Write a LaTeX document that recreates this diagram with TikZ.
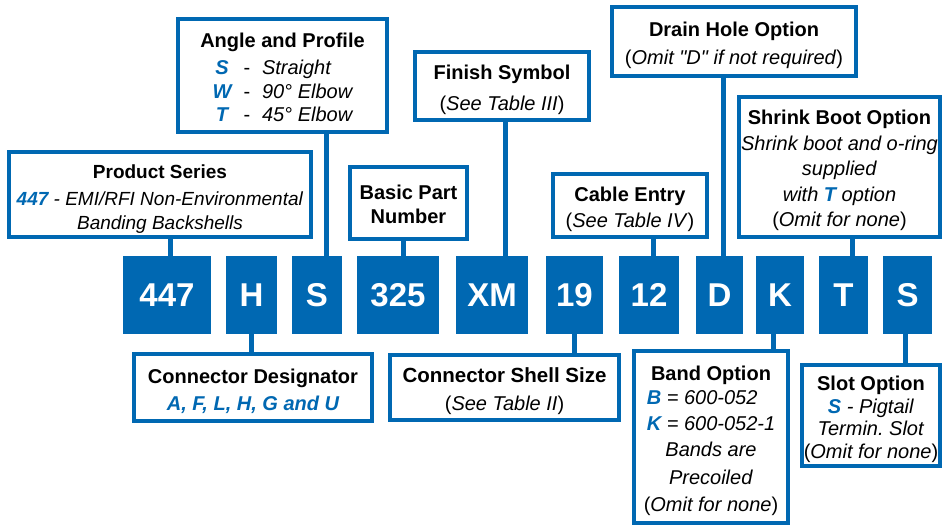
\documentclass[tikz,border=0pt]{standalone}
\usepackage{fontspec}
\setmainfont{Liberation Sans}[Ligatures=TeXOff]
\frenchspacing

\definecolor{partblue}{RGB}{0,104,178}
\newcommand{\opt}[1]{\textcolor{partblue}{\bfseries\itshape #1}}
\newcommand{\see}[1]{(\textit{#1})}
\newcommand{\padtop}{\rule{0pt}{22pt}}
\newcommand{\angleline}[3]{\makebox[20pt]{\opt{#1}}\makebox[30pt]{#2}\makebox[91pt][l]{\itshape #3}}

\begin{document}
\begin{tikzpicture}[x=1pt, y=-1pt,
    code/.style={rectangle, fill=partblue, text=white, inner sep=0pt,
      minimum height=78pt, font=\fontsize{33}{40}\selectfont\bfseries},
    callout/.style={rectangle, draw=partblue, line width=3.5pt, fill=white,
      align=center, inner sep=0pt, font=\fontsize{20}{24.5}\selectfont},
    link/.style={partblue, line width=5pt}
    ]
    \useasboundingbox (0,0) rectangle (943,529);

    % part number boxes
    \node[code, minimum width=88pt] (c447) at (167,295) {447};
    \node[code, minimum width=51pt] (cH) at (251.5,295) {H};
    \node[code, minimum width=50pt] (cS) at (317,295) {S};
    \node[code, minimum width=82pt] (c325) at (398,295) {325};
    \node[code, minimum width=72pt] (cXM) at (492,295) {XM};
    \node[code, minimum width=57pt] (c19) at (574.5,295) {19};
    \node[code, minimum width=60pt] (c12) at (649,295) {12};
    \node[code, minimum width=47pt] (cD) at (719.5,295) {D};
    \node[code, minimum width=48pt] (cK) at (780,295) {K};
    \node[code, minimum width=49pt] (cT) at (843.5,295) {T};
    \node[code, minimum width=49pt] (cS2) at (907.5,295) {S};

    % upper callouts
    \node[callout, minimum width=302pt, minimum height=85pt,
      font=\fontsize{19}{23.5}\selectfont] (series) at (160,194.5)
      {\padtop\textbf{Product Series}\\[4pt]
       \opt{447} \textit{- EMI/RFI Non-Environmental}\\
       \textit{Banding Backshells}};
    \node[callout, minimum width=209pt, minimum height=113pt] (angle) at (282.5,75.5)
      {\rule{0pt}{18pt}\textbf{Angle and Profile}\\[3pt]
       \angleline{S}{-}{Straight}\\[-1pt]
       \angleline{W}{-}{90° Elbow}\\[-1pt]
       \angleline{T}{-}{45° Elbow}};
    \node[callout, minimum width=117pt, minimum height=72pt, font=\fontsize{20}{24}\selectfont\bfseries]
      (partno) at (408.5,203) {\rule{0pt}{17pt}Basic Part\\Number};
    \node[callout, minimum width=174pt, minimum height=68pt] (finish) at (502,86)
      {\padtop\textbf{Finish Symbol}\\[7pt] \see{See Table III}};
    \node[callout, minimum width=244pt, minimum height=69pt] (drain) at (734,41.5)
      {\padtop\textbf{Drain Hole Option}\\[4pt] \see{Omit "D" if not required}};
    \node[callout, minimum width=154pt, minimum height=63pt] (cable) at (630,205.5)
      {\padtop\textbf{Cable Entry}\\[1pt] \see{See Table IV}};
    \node[callout, minimum width=201pt, minimum height=140pt,
      font=\fontsize{20}{25.5}\selectfont] (shrink) at (839.5,167)
      {\padtop\textbf{Shrink Boot Option}\\
       \textit{Shrink boot and o-ring}\\
       \textit{supplied}\\
       \textit{with \opt{T} option}\\
       \see{Omit for none}};

    % lower callouts
    \node[callout, minimum width=238pt, minimum height=67pt] (designator) at (253,387.5)
      {\padtop\textbf{Connector Designator}\\[3pt] \opt{A, F, L, H, G and U}};
    \node[callout, minimum width=229pt, minimum height=65pt] (shell) at (504.5,387.5)
      {\padtop{\fontsize{20.5}{24.5}\selectfont\bfseries Connector Shell Size}\\[4pt] \see{See Table II}};
    \node[callout, minimum width=154pt, minimum height=172pt] (band) at (711,437)
      {\padtop\textbf{Band Option}\\[2pt]
       \begin{tabular}{@{}l@{}}
         \opt{B} \textit{= 600-052}\\[2pt]
         \opt{K} \textit{= 600-052-1}
       \end{tabular}\\[3pt]
       \textit{Bands are}\\[3pt]
       \textit{Precoiled}\\[3pt]
       \see{Omit for none}};
    \node[callout, minimum width=138pt, minimum height=101pt,
      font=\fontsize{20}{22.5}\selectfont] (slot) at (871,415.5)
      {\padtop\textbf{Slot Option}\\
       \opt{S} \textit{- Pigtail}\\
       \textit{Termin. Slot}\\
       \see{Omit for none}};

    % connectors
    \draw[link] ([xshift=3pt]c447.north) -- ([xshift=3pt]c447.north |- series.south);
    \draw[link] (cH.south) -- (cH.south |- designator.north);
    \draw[link] ([xshift=9pt]cS.north) -- ([xshift=9pt]cS.north |- angle.south);
    \draw[link] ([xshift=5pt]c325.north) -- ([xshift=5pt]c325.north |- partno.south);
    \draw[link] ([xshift=13pt]cXM.north) -- ([xshift=13pt]cXM.north |- finish.south);
    \draw[link] (c19.south) -- (c19.south |- shell.north);
    \draw[link] ([xshift=4pt]c12.north) -- ([xshift=4pt]c12.north |- cable.south);
    \draw[link] ([xshift=3.5pt]cD.north) -- ([xshift=3.5pt]cD.north |- drain.south);
    \draw[link] ([xshift=-7pt]cK.south) -- ([xshift=-7pt]cK.south |- band.north);
    \draw[link] ([xshift=8.5pt]cT.north) -- ([xshift=8.5pt]cT.north |- shrink.south);
    \draw[link] ([xshift=-2.5pt]cS2.south) -- ([xshift=-2.5pt]cS2.south |- slot.north);
\end{tikzpicture}
\end{document}
